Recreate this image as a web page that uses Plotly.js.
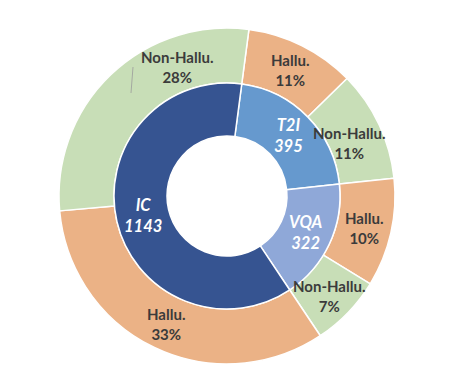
<!DOCTYPE html>
<html>
<head>
<meta charset="utf-8">
<script src="https://cdn.plot.ly/plotly-3.0.1.min.js"></script>
<style>html,body{margin:0;padding:0;background:#fff;}#chart{width:470px;height:385px;}</style>
</head>
<body>
<div id="chart"></div>
<script>
// ---- data ----
const tasks = ['T2I', 'VQA', 'IC'];
const taskCounts = [395, 322, 1143];
const outerLabels = ['Hallu.', 'Non-Hallu.', 'Hallu.', 'Non-Hallu.', 'Hallu.', 'Non-Hallu.'];
const outerTask = ['T2I', 'T2I', 'VQA', 'VQA', 'IC', 'IC'];
const outerCounts = [197, 198, 194, 128, 613, 530];

// ---- styles / geometry ----
const taskColors = {T2I: '#6699CE', VQA: '#8FA8D8', IC: '#365491'};
const hallColors = {'Hallu.': '#EBB286', 'Non-Hallu.': '#C8DEB7'};
const W = 470, H = 385;
const cx = 227, cy = 196;
const rOuter = 168, rMid = 113, rHole = 60;
const rotation = 7.5;
// label nudges (px) for labels that were moved off the slice centre in the original
const outerNudge = [[0, 0], [-5, 7], [0, 1], [1, 3], [0, 1], [47, -28]];
const innerNudge = [[0, 0], [0, 0], [0, 0]];

function dom(r) {
  return {x: [(cx - r) / W, (cx + r) / W], y: [(H - cy - r) / H, (H - cy + r) / H]};
}
function midPositions(vals, r, nudge) {
  const tot = vals.reduce((a, b) => a + b, 0);
  let acc = 0;
  return vals.map((v, i) => {
    const a = (rotation + (acc + v / 2) / tot * 360) * Math.PI / 180;
    acc += v;
    return [cx + r * Math.sin(a) + nudge[i][0], cy - r * Math.cos(a) + nudge[i][1]];
  });
}

const outer = {
  type: 'pie', sort: false, direction: 'clockwise', rotation: rotation,
  labels: outerLabels.map((l, i) => outerTask[i] + ' ' + l),
  values: outerCounts,
  textinfo: 'none',
  marker: {colors: outerLabels.map(l => hallColors[l]), line: {color: '#ffffff', width: 1.5}},
  hole: rMid / rOuter,
  domain: dom(rOuter),
  hoverinfo: 'none'
};
const inner = {
  type: 'pie', sort: false, direction: 'clockwise', rotation: rotation,
  labels: tasks, values: taskCounts,
  textinfo: 'none',
  marker: {colors: tasks.map(t => taskColors[t]), line: {color: '#ffffff', width: 1.5}},
  hole: rHole / rMid,
  domain: dom(rMid),
  hoverinfo: 'none'
};

const total = outerCounts.reduce((a, b) => a + b, 0);
const annotations = [];
midPositions(outerCounts, (rOuter + rMid) / 2, outerNudge).forEach((p, i) => {
  annotations.push({
    xref: 'paper', yref: 'paper', x: p[0] / W, y: 1 - p[1] / H,
    xanchor: 'center', yanchor: 'middle', showarrow: false,
    text: outerLabels[i] + '<br>' + Math.round(outerCounts[i] / total * 100) + '%',
    font: {family: 'Lato', size: 15, color: '#3b3b3b', weight: 'bold'}
  });
});
midPositions(taskCounts, (rMid + rHole) / 2, innerNudge).forEach((p, i) => {
  annotations.push({
    xref: 'paper', yref: 'paper', x: p[0] / W, y: 1 - p[1] / H,
    xanchor: 'center', yanchor: 'middle', showarrow: false,
    text: tasks[i] + '<br>' + taskCounts[i],
    font: {family: 'Lato', size: 16.5, color: '#ffffff', weight: 'bold', style: 'italic'}
  });
});

const layout = {
  width: W, height: H,
  margin: {l: 0, r: 0, t: 0, b: 0},
  showlegend: false,
  paper_bgcolor: '#ffffff',
  annotations: annotations,
  shapes: [{type: 'line', xref: 'paper', yref: 'paper',
    x0: 133 / W, y0: (H - 67) / H, x1: 131 / W, y1: (H - 93) / H,
    line: {color: '#9a9a9a', width: 0.8}}]
};
Plotly.newPlot('chart', [outer, inner], layout, {displayModeBar: false, staticPlot: true});
</script>
</body>
</html>
